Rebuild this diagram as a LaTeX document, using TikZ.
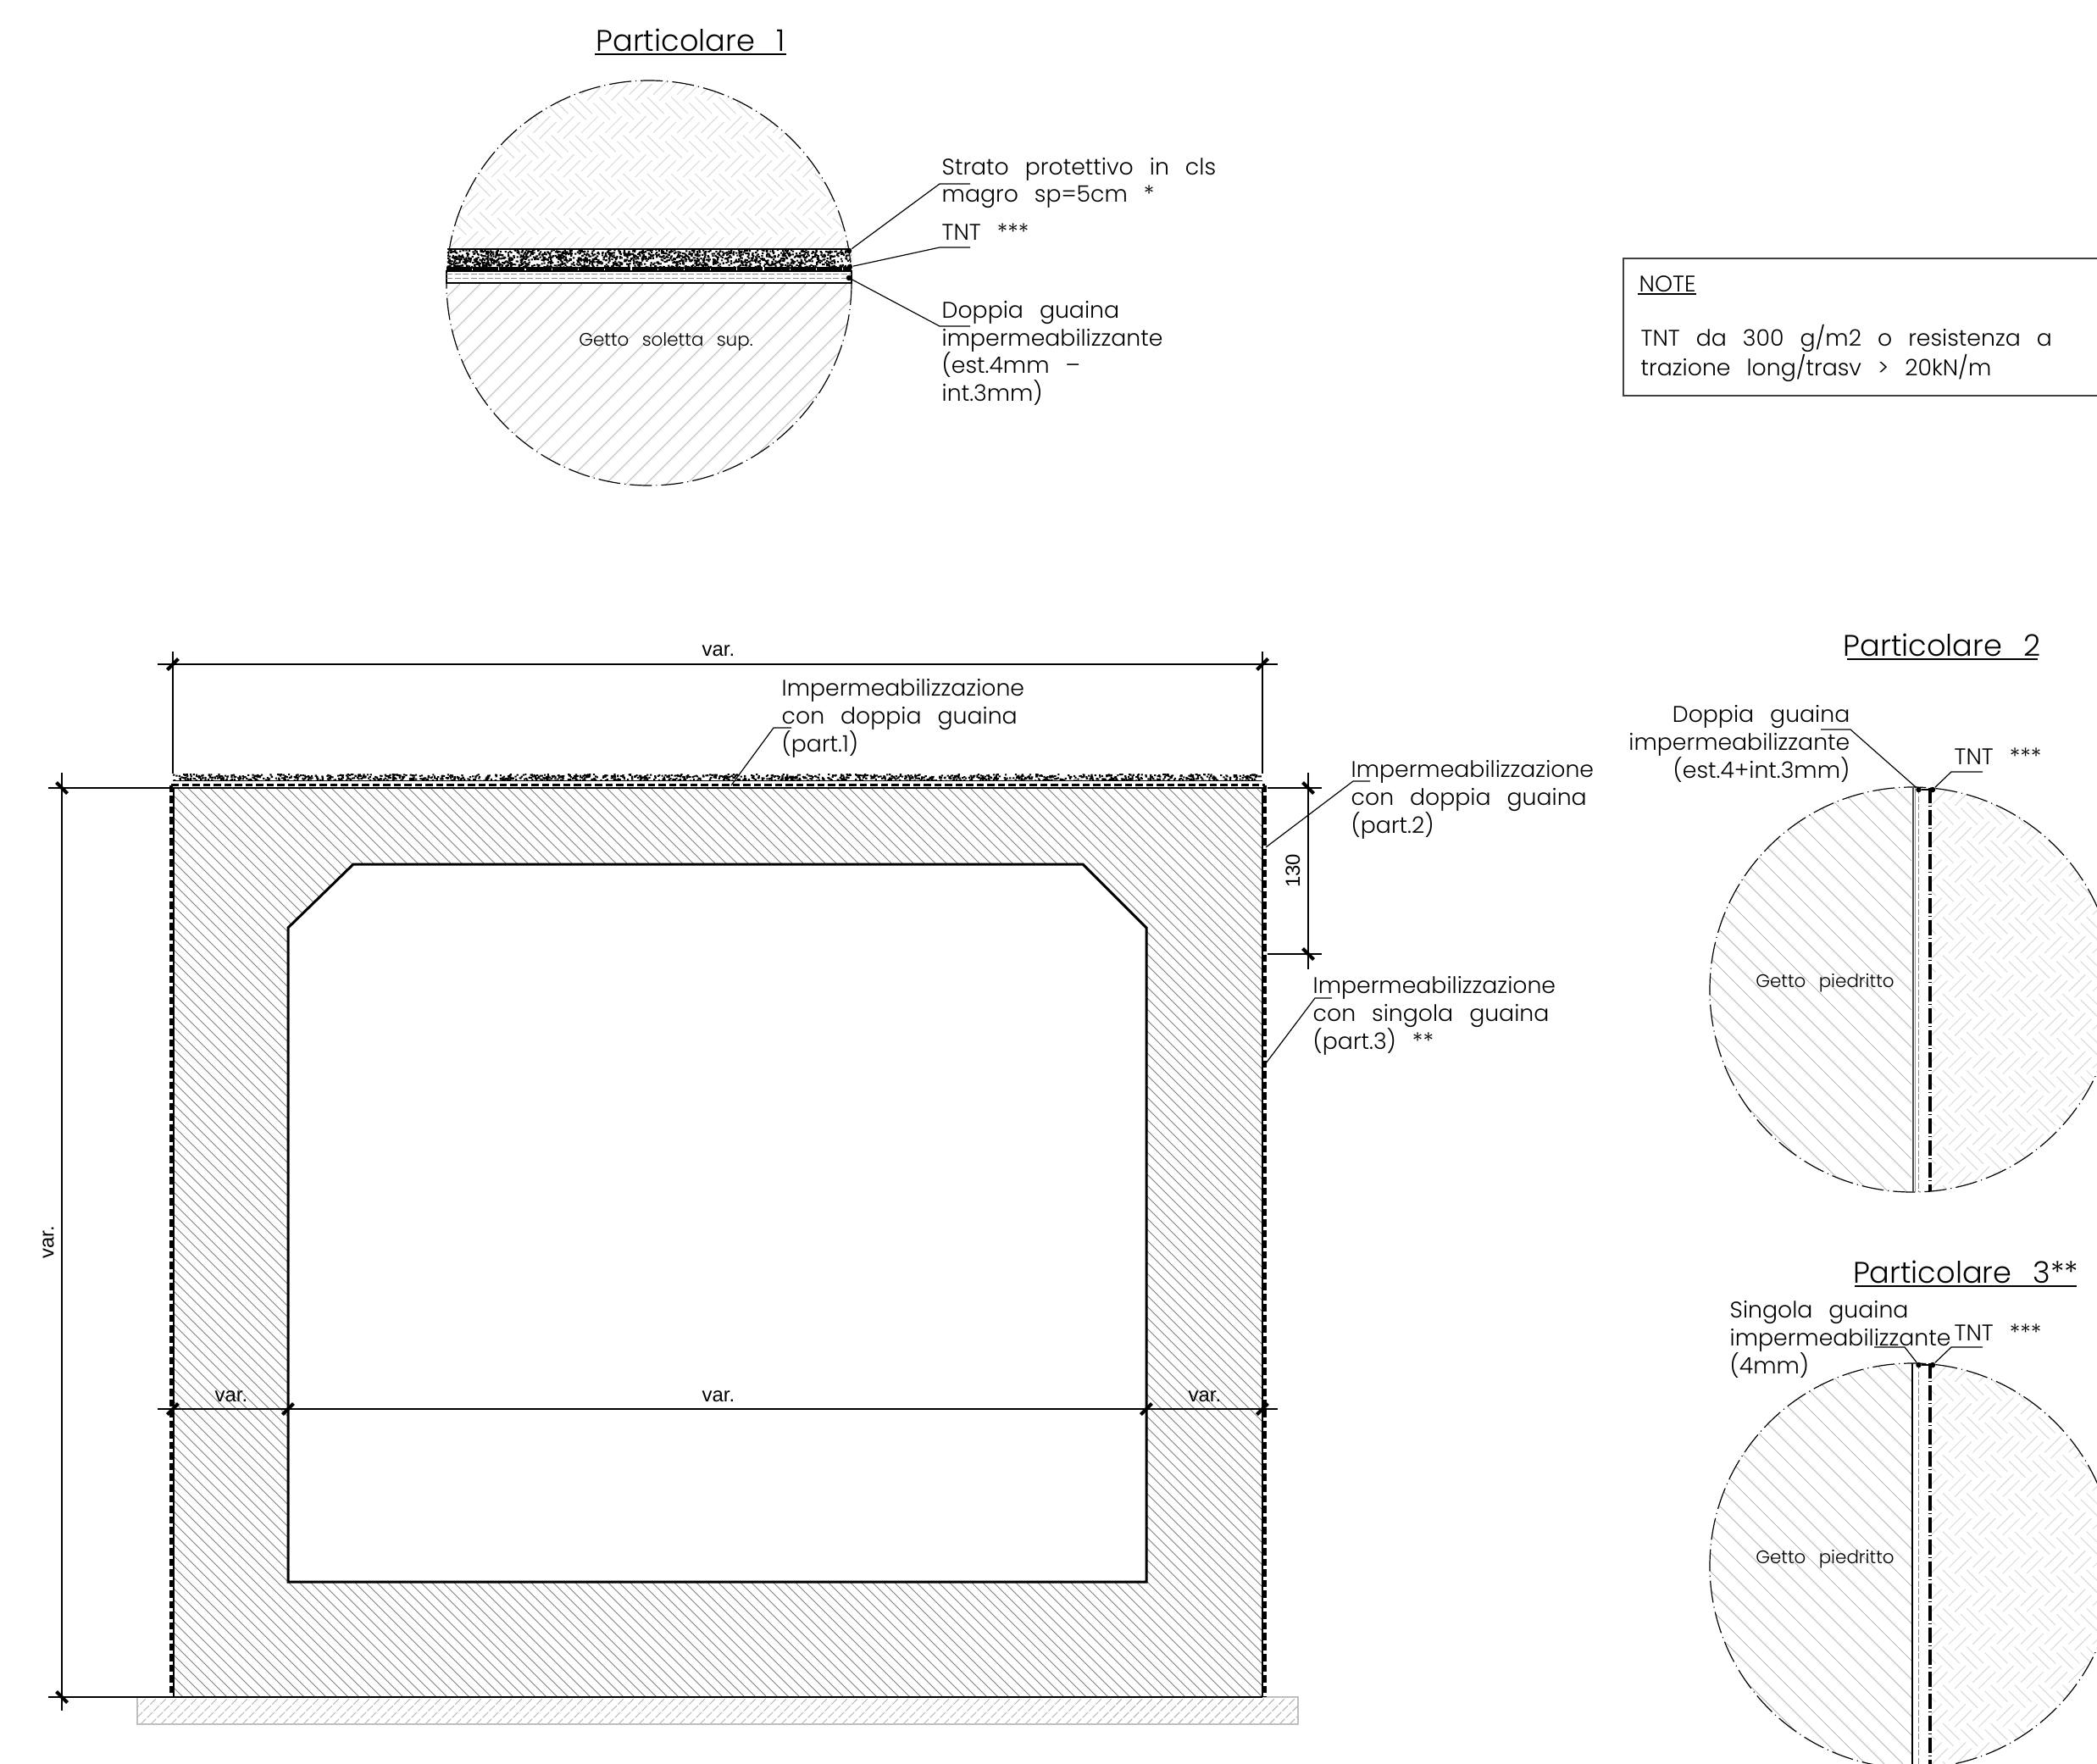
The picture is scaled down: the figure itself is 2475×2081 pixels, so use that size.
\documentclass[tikz,border=0pt]{standalone}
\usepackage{fontspec}
\usepackage{tikz}
\usetikzlibrary{positioning}
\newfontfamily\isofont[WordSpace=2.6]{Poppins Light}
\newfontfamily\dimfont{Liberation Sans}
\newcommand{\lblfont}{\isofont\fontsize{7.6}{9.3}\selectfont\setlength{\lineskiplimit}{-10pt}\setlength{\lineskip}{0pt}}

\tikzset{
    lbl/.style={inner sep=0pt, anchor=west, align=left, font=\lblfont},
    lblr/.style={lbl, anchor=east, align=right},
    ttl/.style={inner sep=0pt, font=\isofont\fontsize{10}{12}\selectfont},
    small/.style={inner sep=0pt, font=\isofont\fontsize{6.1}{7}\selectfont},
    dimtxt/.style={inner sep=0pt, font=\dimfont\fontsize{6.8}{7}\selectfont},
    dimline/.style={line width=0.014cm},
    tickf/.style={line width=0.04cm, shift={(#1)}},
    leader/.style={line width=0.012cm},
    dotmark/.style={circle, fill=black, inner sep=0pt, minimum size=0.065cm},
    hatchmain/.style={line width=0.01cm, black!50},
    hatchdet/.style={line width=0.01cm, black!28},
    herr/.style={line width=0.01cm, black!15},
    circ/.style={line width=0.012cm, dash pattern=on 0.26cm off 0.05cm on 0.012cm off 0.05cm},
    dashthick/.style={line width=0.035cm, dash pattern=on 0.085cm off 0.04cm},
    tnt/.style={line width=0.035cm, dash pattern=on 0.18cm off 0.025cm on 0.015cm off 0.04cm},
    guaina/.style={line width=0.012cm, black!45, dash pattern=on 0.07cm off 0.025cm},
}

% herringbone fill, centred on #1, clipped by the caller
\newcommand{\herring}[1]{
    \begin{scope}[shift={(#1)}, rotate=45]
        \foreach \ha in {-18,...,18} {
            \foreach \hb in {-9,...,9} {
                \pgfmathsetmacro{\hu}{\ha*20+\hb*32}
                \pgfmathsetmacro{\hv}{\ha*20-\hb*32}
                \draw[herr] (\hu+2,\hv+5) -- ++(28,0) (\hu+2,\hv+15) -- ++(28,0);
                \draw[herr] (\hu+37,\hv-10) -- ++(0,28) (\hu+47,\hv-10) -- ++(0,28);
            }
        }
    \end{scope}
}
% speckle for the protective layer
\newcommand{\gravel}[5]{
    \fill[black] foreach \gi in {1,...,#5} {
        [/utils/exec={\pgfmathsetmacro{\gx}{#1+rnd*(#3-#1)}\pgfmathsetmacro{\gy}{#2+rnd*(#4-#2)}}]
        (\gx,\gy) rectangle ++(2.2,2)
    };
}

\begin{document}
\begin{tikzpicture}[x=0.01cm, y=-0.01cm]
    \clip (0,0) rectangle (2475,2081);
    \fill[white] (0,0) rectangle (2475,2081);
    \pgfmathsetseed{11}

    % base
    \begin{scope}
        \clip (162,2003) rectangle (1532,2035);
        \foreach \hx in {130,142,...,1540} {
            \draw[line width=0.01cm, black!30, dash pattern=on 0.09cm off 0.02cm] (\hx,2035) -- ++(32,-32);
        }
    \end{scope}
    \draw[line width=0.015cm, black!25] (162,2003) rectangle (1532,2035);

    % main section
    \begin{scope}
        \clip (204,930) rectangle (1490,2003);
        \foreach \hx in {-870,-857,...,1490} {
            \draw[hatchmain] (\hx,930) -- ++(1073,1073);
        }
    \end{scope}
    \draw[line width=0.03cm, fill=white] (417,1020) -- (1278,1020) -- (1353,1095) -- (1353,1867) -- (340,1867) -- (340,1095) -- cycle;
    \draw[line width=0.025cm] (202,930) -- (1492,930);
    \draw[line width=0.025cm] (205,930) -- (205,2003);
    \draw[line width=0.025cm] (1490,930) -- (1490,2003);
    \draw[line width=0.02cm] (204,2003) -- (1490,2003);
    \draw[dashthick] (202,926.5) -- (1493,926.5);
    \draw[dashthick] (202,926.5) -- (202,2003);
    \draw[dashthick] (1493,926.5) -- (1493,2003);
    \draw[line width=0.01cm] (204,921.5) -- (1490,921.5);
    \begin{scope}
        \clip (204,913) rectangle (1490,921);
        \gravel{204}{913}{1490}{921}{1500}
    \end{scope}

    % dimensions
    \draw[dimline] (186,784) -- (1508,784);
    \draw[dimline] (204,769) -- (204,913);
    \draw[dimline] (1490,769) -- (1490,913);
    \draw[tickf={204,784}] (-6.5,6.5) -- (6.5,-6.5);
    \draw[tickf={1490,784}] (-6.5,6.5) -- (6.5,-6.5);
    \node[dimtxt] (vartop) at (848,768) {var.};

    \draw[dimline] (57,930) -- (204,930);
    \draw[dimline] (57,2003) -- (204,2003);
    \draw[dimline] (73,912) -- (73,2019);
    \draw[tickf={73,930}] (-6.5,-6.5) -- (6.5,6.5);
    \draw[tickf={73,2003}] (-6.5,-6.5) -- (6.5,6.5);
    \node[dimtxt, rotate=90] (varleft) at (57,1466) {var.};

    \draw[dimline] (186,1663) -- (1508,1663);
    \foreach \tx in {204,340,1353,1490} {
        \draw[tickf={\tx,1663}] (-6.5,6.5) -- (6.5,-6.5);
    }
    \node[dimtxt] (varmidl) at (273,1648) {var.};
    \node[dimtxt] (varmidc) at (848,1648) {var.};
    \node[dimtxt] (varmidr) at (1422,1648) {var.};

    \draw[dimline] (1496,930) -- (1560,930);
    \draw[dimline] (1496,1126) -- (1560,1126);
    \draw[dimline] (1544,912) -- (1544,1144);
    \draw[tickf={1544,930}] (-6.5,-6.5) -- (6.5,6.5);
    \draw[tickf={1544,1126}] (-6.5,-6.5) -- (6.5,6.5);
    \node[dimtxt, rotate=90] (dim130) at (1526,1028) {130};

    % main section labels
    \node[lbl] (lblp1) at (922,848) {Impermeabilizzazione\\con doppia guaina\\(part.1)};
    \coordinate (p1end) at (863,927);
    \coordinate (p1k) at (913,859);
    \coordinate (p1u) at (934,859);
    \draw[leader] (p1end) -- (p1k) -- (p1u);

    \node[lbl] (lblp2) at (1594,944) {Impermeabilizzazione\\con doppia guaina\\(part.2)};
    \coordinate (p2end) at (1494,1000);
    \coordinate (p2k) at (1597,922);
    \coordinate (p2u) at (1617,922);
    \draw[leader] (p2end) -- (p2k) -- (p2u);

    \node[lbl] (lblp3) at (1549,1199) {Impermeabilizzazione\\con singola guaina\\(part.3) **};
    \coordinate (p3end) at (1494,1255);
    \coordinate (p3k) at (1552,1178);
    \coordinate (p3u) at (1572,1178);
    \draw[leader] (p3end) -- (p3k) -- (p3u);

    % particolare 1
    \node[ttl] (ttl1) at (815,47) {Particolare 1};
    \draw[line width=0.018cm] (702,64) -- (928,64);
    \begin{scope}
        \clip (766,334) circle (239);
        \begin{scope}
            \clip (520,90) rectangle (1010,294);
            \herring{766,200}
        \end{scope}
        \begin{scope}
            \clip (520,335) rectangle (1010,580);
            \foreach \hx in {250,274,...,1030} {
                \draw[hatchdet] (\hx,580) -- ++(245,-245);
            }
        \end{scope}
    \end{scope}
    \draw[circ] (766,334) circle (239);
    \begin{scope}
        \clip (527,294) rectangle (1005,316);
        \gravel{527}{294}{1005}{316}{1600}
    \end{scope}
    \draw[line width=0.02cm] (528,294) -- (1004,294);
    \draw[line width=0.05cm, dash pattern=on 0.3cm off 0.012cm] (527,317.5) -- (1005,317.5);
    \draw[line width=0.014cm] (527,320) rectangle (1005,334);
    \draw[guaina] (527,323.5) -- (1005,323.5);
    \draw[guaina] (527,328.5) -- (1005,328.5);
    \node[dotmark] (d1a) at (1002,296) {};
    \node[dotmark] (d1b) at (1003,315) {};
    \node[dotmark] (d1c) at (1002,328) {};
    \coordinate (k1a) at (1109,217);
    \coordinate (u1a) at (1145,217);
    \coordinate (k1b) at (1109,292);
    \coordinate (u1b) at (1145,292);
    \coordinate (k1c) at (1109,385);
    \coordinate (u1c) at (1145,385);
    \draw[leader] (d1a) -- (k1a) -- (u1a);
    \draw[leader] (d1b) -- (k1b) -- (u1b);
    \draw[leader] (d1c) -- (k1c) -- (u1c);
    \node[lbl] (lbl1a) at (1111,216) {Strato protettivo in cls\\magro sp=5cm *};
    \node[lbl] (lbl1b) at (1111,274) {TNT ***};
    \node[lbl] (lbl1c) at (1111,417) {Doppia guaina\\impermeabilizzante\\(est.4mm –\\int.3mm)};
    \node[small] (getto1) at (786,403) {Getto soletta sup.};

    % note
    \draw[line width=0.015cm, black!75] (2480,305) -- (1916,305) -- (1916,467) -- (2480,467);
    \node[lbl] (notehead) at (1934,335) {NOTE};
    \draw[line width=0.018cm] (1933,347) -- (2002,347);
    \node[lbl] (notetxt) at (1936,417) {TNT da 300 g/m2 o resistenza a\\[0.6pt]trazione long/trasv > 20kN/m};

    % particolare 2
    \node[ttl] (ttl2) at (2292,761) {Particolare 2};
    \draw[line width=0.018cm] (2180,778) -- (2405,778);
    \begin{scope}
        \clip (2257,1168) circle (239);
        \begin{scope}
            \clip (2010,920) rectangle (2256,1420);
            \foreach \hx in {1500,1522,...,2260} {
                \draw[hatchdet] (\hx,920) -- ++(500,500);
            }
        \end{scope}
        \begin{scope}
            \clip (2279,920) rectangle (2500,1420);
            \herring{2380,1168}
        \end{scope}
    \end{scope}
    \draw[circ] (2257,1168) circle (239);
    \draw[line width=0.02cm, black!70] (2257.5,930) -- (2257.5,1407);
    \draw[line width=0.012cm, black!40] (2260.5,930) -- (2260.5,1407);
    \draw[guaina] (2264.5,930) -- (2264.5,1407);
    \draw[tnt] (2278,930) -- (2278,1406);
    \node[dotmark] (d2a) at (2264.5,932) {};
    \node[dotmark] (d2b) at (2281,932) {};
    \draw[leader] (d2a) -- (d2b);
    \coordinate (k2a) at (2184,861);
    \coordinate (u2a) at (2149,861);
    \coordinate (k2b) at (2303,911);
    \coordinate (u2b) at (2340,911);
    \draw[leader] (d2a) -- (k2a) -- (u2a);
    \draw[leader] (d2b) -- (k2b) -- (u2b);
    \node[lblr] (lbl2a) at (2184,878) {Doppia guaina\\impermeabilizzante\\(est.4+int.3mm)};
    \node[lbl] (lbl2b) at (2306,893) {TNT ***};
    \node[small] (getto2) at (2154,1160) {Getto piedritto};

    % particolare 3
    \node[ttl] (ttl3) at (2320,1501) {Particolare 3**};
    \draw[line width=0.018cm] (2189,1518) -- (2451,1518);
    \begin{scope}
        \clip (2257,1848) circle (239);
        \begin{scope}
            \clip (2010,1600) rectangle (2256,2090);
            \foreach \hx in {1500,1522,...,2260} {
                \draw[hatchdet] (\hx,1600) -- ++(500,500);
            }
        \end{scope}
        \begin{scope}
            \clip (2279,1600) rectangle (2500,2090);
            \herring{2380,1848}
        \end{scope}
    \end{scope}
    \draw[circ] (2257,1848) circle (239);
    \draw[line width=0.014cm] (2257,1609) -- (2257,2085);
    \draw[guaina] (2264.5,1609) -- (2264.5,2085);
    \draw[tnt] (2278,1609) -- (2278,2085);
    \node[dotmark] (d3a) at (2264.5,1611) {};
    \node[dotmark] (d3b) at (2281,1611) {};
    \draw[leader] (d3a) -- (d3b);
    \coordinate (k3a) at (2248,1590);
    \coordinate (u3a) at (2212,1590);
    \coordinate (k3b) at (2303,1590);
    \coordinate (u3b) at (2340,1590);
    \draw[leader] (d3a) -- (k3a) -- (u3a);
    \draw[leader] (d3b) -- (k3b) -- (u3b);
    \node[lbl] (lbl3a) at (2041,1581) {Singola guaina\\impermeabilizzante\\(4mm)};
    \node[lbl] (lbl3b) at (2306,1573) {TNT ***};
    \node[small] (getto3) at (2154,1840) {Getto piedritto};
\end{tikzpicture}
\end{document}
